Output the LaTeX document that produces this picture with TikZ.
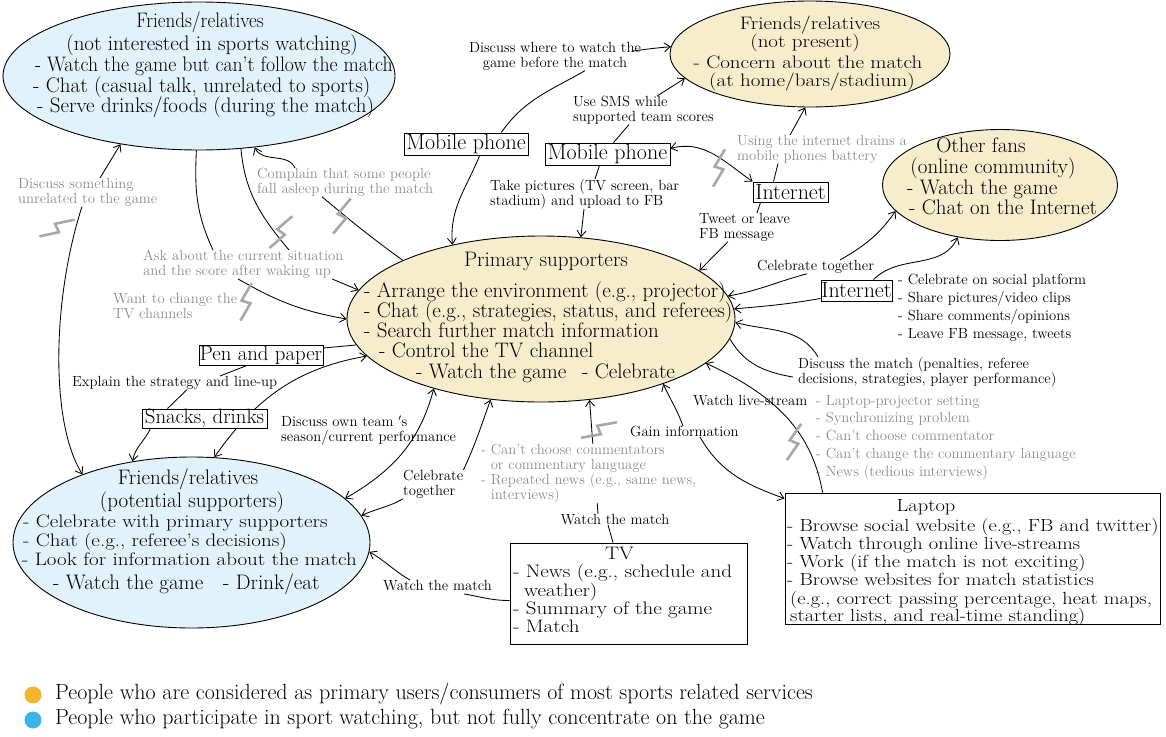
\documentclass[tikz,border=0pt]{standalone}
\usepackage{graphicx}
\usetikzlibrary{arrows.meta,shapes.geometric}
\definecolor{beige}{HTML}{F6EDCC}
\definecolor{skyfill}{HTML}{E2F2FA}
\definecolor{greytext}{HTML}{8C8C8C}
\definecolor{zigcol}{HTML}{A8A8A8}
\definecolor{dotorange}{HTML}{F3B52F}
\definecolor{dotblue}{HTML}{3BB4E5}
% lightning mark across a connector: x, y (downwards), angle
\newcommand\zigmark[3]{%
  \draw[zig, shift={(#1,-#2)}, rotate=#3] (-19,-4.5) -- (1,-4.5) -- (-1,4.5) -- (19,4.5);}
% slightly flattened text for tightly spaced lines
\newcommand\lowtxt[1]{\scalebox{1}[0.86]{#1}}
\begin{document}
\begin{tikzpicture}[x=1pt,y=1pt,
  conn/.style={line width=0.85pt},
  arr/.style={conn,-{Straight Barb[length=6pt,width=9pt]}},
  darr/.style={conn,{Straight Barb[length=6pt,width=9pt]}-{Straight Barb[length=6pt,width=9pt]}},
  zig/.style={line width=2.6pt, draw=zigcol},
  bubble/.style={ellipse, draw, line width=0.9pt, inner sep=0pt},
  big/.style={font=\fontsize{21}{21}\selectfont, inner sep=0pt, text height=12pt, text depth=3.5pt},
  bigw/.style={big, anchor=west},
  lap/.style={bigw, font=\fontsize{20.4}{21}\selectfont},
  boxtxt/.style={draw, line width=0.9pt, fill=white, inner sep=0pt, font=\fontsize{22}{22}\selectfont},
  panel/.style={draw, line width=0.9pt, inner sep=0pt},
  lbl/.style={font=\fontsize{14.7}{15}\selectfont, inner sep=0pt, align=left, anchor=north west},
  glbl/.style={lbl, text=greytext},
  legtxt/.style={font=\fontsize{22}{22}\selectfont, inner sep=0pt, anchor=west, text height=14pt, text depth=4.5pt},
]
\fill[white] (0,0) rectangle (1166,-736);
\useasboundingbox (0,0) rectangle (1166,-736);

% ---------- people ----------
\node[bubble, fill=skyfill, minimum width=392pt, minimum height=148pt] (TL) at (199,-76) {};
\node[big] (TLa) at (200,-23) {\scalebox{0.91}[1]{Friends/relatives}};
\node[big] (TLb) at (212,-46) {(not interested in sports watching)};
\node[bigw] (TLc) at (35,-67) {\scalebox{0.94}[1]{- Watch the game but can’t follow the match}};
\node[bigw] (TLd) at (33,-88) {- Chat (casual talk, unrelated to sports)};
\node[bigw] (TLe) at (37,-108) {- Serve drinks/foods (during the match)};

\node[bubble, fill=beige, minimum width=280pt, minimum height=106pt] (FNP) at (810,-54) {};
\node[big] (FNPa) at (810,-25) {\lowtxt{Friends/relatives}};
\node[big] (FNPb) at (805,-43) {\lowtxt{(not present)}};
\node[big] (FNPc) at (808,-64) {\lowtxt{- Concern about the match}};
\node[big] (FNPd) at (812,-82) {\lowtxt{(at home/bars/stadium)}};

\node[bubble, fill=beige, minimum width=235pt, minimum height=111pt] (OF) at (1000,-185) {};
\node[big] (OFa) at (981,-148) {Other fans};
\node[big] (OFb) at (993,-169) {(online community)};
\node[bigw] (OFc) at (907,-190) {- Watch the game};
\node[bigw] (OFd) at (909,-210) {- Chat on the Internet};

\node[bubble, fill=beige, minimum width=388pt, minimum height=166pt] (P) at (541,-319) {};
\node[big] (Pa) at (546,-262) {Primary supporters};
\node[bigw] (Pb) at (364,-293) {- Arrange the environment (e.g., projector)};
\node[bigw] (Pc) at (364,-313) {- Chat (e.g., strategies, status, and referees)};
\node[bigw] (Pd) at (364,-333) {- Search further match information};
\node[bigw] (Pe) at (379,-353) {- Control the TV channel};
\node[bigw] (Pf) at (416,-374) {- Watch the game};
\node[bigw] (Pg) at (582,-374) {- Celebrate};

\node[bubble, fill=skyfill, minimum width=357pt, minimum height=171pt] (BL) at (191.5,-542.5) {};
\node[big] (BLa) at (188,-480) {Friends/relatives};
\node[big] (BLb) at (192,-503) {(potential supporters)};
\node[bigw] (BLc) at (23,-523) {\lowtxt{- Celebrate with primary supporters}};
\node[bigw] (BLd) at (23,-542) {\lowtxt{- Chat (e.g., referee’s decisions)}};
\node[bigw] (BLe) at (22,-561) {\lowtxt{- Look for information about the match}};
\node[bigw] (BLf) at (53,-585) {- Watch the game};
\node[bigw] (BLg) at (223,-585) {- Drink/eat};

% ---------- devices ----------
\node[boxtxt, minimum width=124pt, minimum height=22pt] (mpA) at (466,-144) {Mobile phone};
\node[boxtxt, minimum width=125pt, minimum height=22pt] (mpB) at (607.5,-154) {Mobile phone};
\node[boxtxt, minimum width=75pt, minimum height=20pt] (netA) at (790.5,-192) {Internet};
\node[boxtxt, minimum width=71pt, minimum height=21pt] (netB) at (856.5,-290.5) {Internet};
\node[boxtxt, font=\fontsize{20.8}{22}\selectfont, minimum width=124pt, minimum height=20pt] (pen) at (261,-355) {Pen and paper};

\node[panel, minimum width=237pt, minimum height=101pt] (TV) at (628.5,-593.5) {};
\node[big] (TVa) at (619.5,-555) {\lowtxt{TV}};
\node[bigw] (TVb) at (513,-573) {\lowtxt{- News (e.g., schedule and}};
\node[bigw] (TVc) at (524,-592) {\lowtxt{weather)}};
\node[bigw] (TVd) at (513,-610) {\lowtxt{- Summary of the game}};
\node[bigw] (TVe) at (513,-628) {\lowtxt{- Match}};

\node[panel, minimum width=375pt, minimum height=131pt] (Laptop) at (972.5,-558.5) {};
\node[big, font=\fontsize{20.4}{21}\selectfont] (LPa) at (926,-507) {\lowtxt{Laptop}};
\node[lap] (LPb) at (787,-527) {\lowtxt{- Browse social website (e.g., FB and twitter)}};
\node[lap] (LPc) at (787,-545) {\lowtxt{- Watch through online live-streams}};
\node[lap] (LPd) at (787,-563) {\lowtxt{- Work (if the match is not exciting)}};
\node[lap] (LPe) at (787,-581) {\lowtxt{- Browse websites for match statistics}};
\node[lap] (LPf) at (790,-600) {\lowtxt{(e.g., correct passing percentage, heat maps,}};
\node[lap] (LPg) at (790,-617) {\lowtxt{starter lists, and real-time standing)}};

% ---------- labels ----------
\node[lbl, align=center, anchor=north] (Lwhere) at (555,-42) {Discuss where to watch the\\game before the match};
\node[lbl] (Lsms) at (573,-96) {Use SMS while\\supported team scores};
\node[lbl] (Lpics) at (490,-179) {Take pictures (TV screen, bar\\stadium) and upload to FB};
\node[lbl] (Ltweet) at (699,-213) {Tweet or leave\\FB message};
\node[glbl] (Ldrain) at (737,-135) {Using the internet drains a\\mobile phones battery};
\node[lbl] (Lcelebr) at (757,-260) {Celebrate together};
\node[lbl, font=\fontsize{14.7}{18}\selectfont] (Lnetlist) at (898,-274) {- Celebrate on social platform\\- Share pictures/video clips\\- Share comments/opinions\\- Leave FB message, tweets};
\node[lbl] (Ldmatch) at (798,-357) {Discuss the match (penalties, referee\\decisions, strategies, player performance)};
\node[lbl] (Llive) at (693,-395) {Watch live-stream};
\node[glbl, font=\fontsize{14.7}{17.7}\selectfont] (Llaplist) at (816,-395) {- Laptop-projector setting\\- Synchronizing problem\\- Can’t choose commentator\\- Can’t change the commentary language\\- News (tedious interviews)};
\node[lbl] (Lgain) at (630,-426) {Gain information};
\node[lbl, align=center, anchor=north] (Lwatchmid) at (615,-514) {Watch the match};
\node[lbl] (Lwatchleft) at (383,-580) {Watch the match};
\node[lbl] (Lcelebb) at (403,-470) {Celebrate\\together};
\node[lbl] (Lownteam) at (281,-416) {Discuss own team $'$s\\season/current performance};
\node[lbl] (Lexplain) at (72,-376) {Explain the strategy and line-up};
\node[glbl] (Lcomplain) at (257,-168) {Complain that some people\\fall asleep during the match};
\node[glbl] (Lunrel) at (18,-178) {Discuss something\\unrelated to the game};
\node[glbl] (Lask) at (143,-250) {Ask about the current situation\\and the score after waking up};
\node[glbl] (Ltvch) at (113,-293) {Want to change the\\TV channels};

% ---------- connectors ----------
\draw[arr] (mpA.-40) to[out=-112,in=95] (P.140);
\draw[conn] (mpA.18) to[out=55,in=-150] ([xshift=30pt]Lwhere.south);
\draw[arr] ([shift={(-8,-9)}]Lwhere.north east) to[out=8,in=185] (FNP.177);
\draw[conn] ([xshift=6pt]mpB.north) -- ([xshift=56pt]Lsms.south west);
\draw[arr] ([xshift=84pt]Lsms.north west) -- (FNP.191);
\draw[conn] ([xshift=-8pt]mpB.south) -- ([xshift=105pt]Lpics.north west);
\draw[arr] ([xshift=94pt]Lpics.south west) -- (P.64);
\draw[darr] (mpB.5) to[out=15,in=145] (netA.north west);
\draw[conn] ([xshift=-17pt]netA.north) -- ([xshift=41pt]Ldrain.south west);
\draw[arr] ([xshift=53pt]Ldrain.north west) -- (FNP.265);
\draw[conn] ([xshift=-30pt]netA.south) -- ([xshift=58pt]Ltweet.north west);
\draw[arr] ([xshift=29pt]Ltweet.south west) -- (P.17);
\draw[arr] ([xshift=50pt]Lcelebr.south west) to[out=195,in=10] (P.7);
\draw[arr] ([xshift=83pt]Lcelebr.north west) to[out=30,in=-125] (OF.194);
\draw[arr] ([yshift=3pt]netB.south west) to[out=190,in=5] (P.3);
\draw[arr] ([xshift=17pt]netB.north) to[out=45,in=-115] (OF.231);
\draw[conn] (P.-6) to[out=-60,in=170] ([shift={(-5,-5)}]Ldmatch.west);
\draw[arr] ([xshift=20pt]Ldmatch.north west) to[out=120,in=-15] (P.-1);
\draw[arr] ([xshift=38pt]Laptop.north west) to[out=100,in=-25] (P.345);
\draw[arr] ([xshift=53pt]Lgain.north west) to[out=110,in=-65] (P.332);
\draw[arr] ([xshift=70pt]Lgain.south west) to[out=-60,in=160] ([yshift=-6pt]Laptop.north west);
\draw[conn] ([xshift=-15.5pt]TV.north) -- ([xshift=-7pt]Lwatchmid.south);
\draw[arr] ([xshift=-17pt]Lwatchmid.north) -- (P.301);
\node[glbl, fill=white] (Ltvissues) at (481,-444) {- Can’t choose commentators\\\phantom{- }or commentary language\\- Repeated news (e.g., same news,\\\phantom{- }interviews)};
\draw[conn] ([yshift=-7pt]TV.west) to[out=180,in=-10] ([shift={(-28,-3)}]Lwatchleft.south east);
\draw[arr] ([xshift=27pt]Lwatchleft.north west) to[out=150,in=-30] (BL.357);
\draw[arr] (Lcelebb.south west) to[out=-150,in=25] (BL.9);
\draw[arr] (Lcelebb.north east) to[out=65,in=-110] (P.238.6);
\draw[darr] (BL.16) to[out=30,in=-105] (P.213);
\draw[darr] (BL.75.8) to[out=55,in=190] (P.192.8);
\node[boxtxt, font=\fontsize{20.8}{22}\selectfont, minimum width=125pt, minimum height=19pt] (snacks) at (204.5,-418.5) {Snacks, drinks};
\draw[conn] ([yshift=7pt]pen.east) -- (P.188);
\draw[conn] ([xshift=-14pt]pen.south) -- ([xshift=148pt]Lexplain.north west);
\draw[conn] ([xshift=115pt]Lexplain.south west) -- ([xshift=-37pt]snacks.north);
\draw[arr] ([xshift=-54pt]snacks.south) to[out=-115,in=80] (BL.126.4);
\draw[arr] ([xshift=82pt]Lunrel.north west) -- (TL.221.4);
\draw[arr] ([xshift=64pt]Lunrel.south west) .. controls +(-108:95) and +(122:62) .. (BL.148);
\draw[conn] (TL.268) to[out=-93,in=115] ([xshift=70pt]Lask.north west);
\draw[conn] (TL.300.8) to[out=-85,in=130] ([xshift=146pt]Lask.north west);
\draw[arr] ([xshift=189pt]Lask.south west) -- (P.171);
\draw[arr] ([xshift=95pt]Lask.south west) to[out=-30,in=170] (P.180);
\draw[conn] (P.157.7) to[out=144,in=-40] ([xshift=65pt]Lcomplain.south west);
\draw[arr] ([xshift=38pt]Lcomplain.north west) to[out=115,in=-65] (TL.308.6);

% ---------- broken-link marks ----------
\zigmark{57}{228}{12}
\zigmark{281}{232}{41}
\zigmark{342}{216}{50}
\zigmark{246}{302}{60}
\zigmark{719}{168}{59}
\zigmark{599}{430}{10}
\zigmark{794}{442}{55}

% ---------- legend ----------
\node[circle, fill=dotorange, minimum size=17pt, inner sep=0pt] (dotA) at (33,-695) {};
\node[circle, fill=dotblue, minimum size=17pt, inner sep=0pt] (dotB) at (33,-720) {};
\node[legtxt] (legA) at (55,-695) {People who are considered as primary users/consumers of most sports related services};
\node[legtxt] (legB) at (55,-720) {People who participate in sport watching, but not fully concentrate on the game};
\end{tikzpicture}
\end{document}
